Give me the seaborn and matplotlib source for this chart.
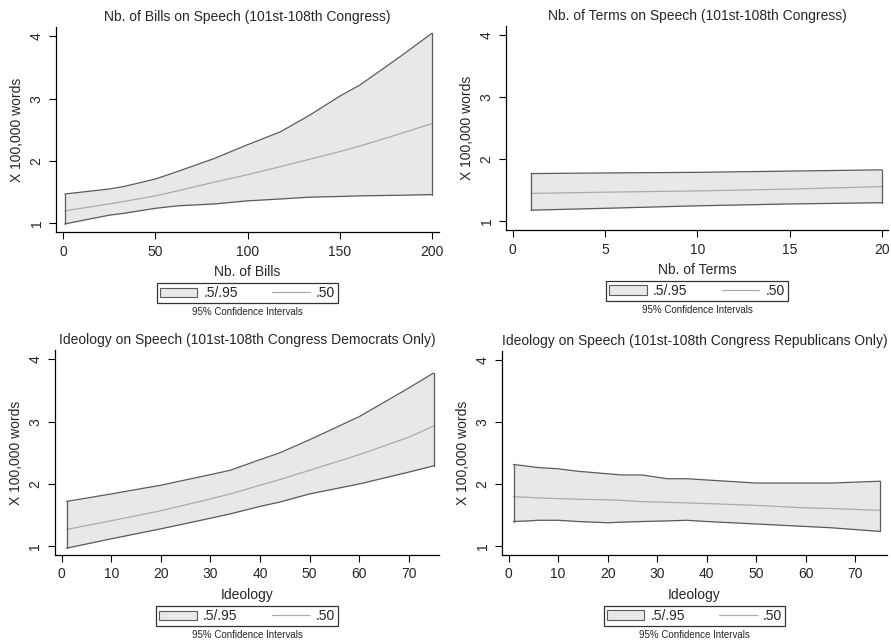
import matplotlib
matplotlib.use("Agg")
import matplotlib.pyplot as plt
import seaborn as sns
import pandas as pd
from matplotlib.patches import Patch
from matplotlib.lines import Line2D

sns.set_style("ticks")
plt.rcParams["font.family"] = ["Liberation Sans", "DejaVu Sans"]

# Predicted speech (x 100,000 words): lower bound, median, upper bound
bills_x = [1, 25, 33, 50, 62, 82, 100, 118, 134, 150, 161, 183, 200]
bills_lo = [0.99, 1.13, 1.16, 1.24, 1.28, 1.31, 1.36, 1.39, 1.42, 1.43, 1.44, 1.45, 1.46]
bills_med = [1.20, 1.31, 1.35, 1.44, 1.52, 1.66, 1.78, 1.91, 2.03, 2.15, 2.24, 2.44, 2.60]
bills_hi = [1.47, 1.55, 1.59, 1.71, 1.83, 2.04, 2.26, 2.47, 2.74, 3.04, 3.22, 3.68, 4.05]

terms_x = [1, 5, 10, 15, 20]
terms_lo = [1.18, 1.21, 1.25, 1.28, 1.30]
terms_med = [1.45, 1.47, 1.49, 1.52, 1.56]
terms_hi = [1.77, 1.78, 1.79, 1.81, 1.83]

dem_x = [1, 10, 20, 30, 34, 40, 44, 50, 60, 70, 75]
dem_lo = [0.97, 1.12, 1.28, 1.45, 1.52, 1.64, 1.71, 1.84, 2.00, 2.19, 2.29]
dem_med = [1.27, 1.41, 1.57, 1.76, 1.84, 1.98, 2.07, 2.22, 2.47, 2.75, 2.93]
dem_hi = [1.72, 1.84, 1.98, 2.15, 2.22, 2.39, 2.50, 2.71, 3.08, 3.54, 3.78]

rep_x = [1, 4, 6, 10, 14, 20, 23, 27, 32, 36, 40, 50, 60, 65, 75]
rep_lo = [1.40, 1.41, 1.42, 1.42, 1.40, 1.38, 1.39, 1.40, 1.41, 1.42, 1.40, 1.36, 1.32, 1.30, 1.24]
rep_med = [1.80, 1.79, 1.78, 1.77, 1.76, 1.75, 1.74, 1.72, 1.71, 1.70, 1.69, 1.66, 1.62, 1.61, 1.58]
rep_hi = [2.32, 2.29, 2.27, 2.25, 2.21, 2.17, 2.15, 2.15, 2.09, 2.09, 2.07, 2.02, 2.02, 2.02, 2.05]

titles = [
    "Nb. of Bills on Speech (101st-108th Congress)",
    "Nb. of Terms on Speech (101st-108th Congress)",
    "Ideology on Speech (101st-108th Congress Democrats Only)",
    "Ideology on Speech (101st-108th Congress Republicans Only)",
]
xlabels = ["Nb. of Bills", "Nb. of Terms", "Ideology", "Ideology"]
ylabel = "X 100,000 words"
legend_labels = [".5/.95", ".50"]
caption = "95% Confidence Intervals"

panels = [
    (bills_x, bills_lo, bills_med, bills_hi, [0, 50, 100, 150, 200], (-3.8, 203.8)),
    (terms_x, terms_lo, terms_med, terms_hi, [0, 5, 10, 15, 20], (-0.36, 20.32)),
    (dem_x, dem_lo, dem_med, dem_hi, [0, 10, 20, 30, 40, 50, 60, 70], (-1.35, 76.1)),
    (rep_x, rep_lo, rep_med, rep_hi, [0, 10, 20, 30, 40, 50, 60, 70], (-1.33, 76.4)),
]

W, H = 891, 642
boxes_px = [
    (56, 27, 439, 232),
    (506, 26, 888, 230),
    (55, 350, 439, 555),
    (502, 351, 887, 555),
]

FILL = "#e8e8e8"
EDGE = "#5a5a5a"
MED = "#ababab"

fig = plt.figure(figsize=(W / 100, H / 100), dpi=100)
fig.patch.set_facecolor("white")

for i, ((x, lo, med, hi, xticks, xlim), (l, t, r, b)) in enumerate(zip(panels, boxes_px)):
    ax = fig.add_axes([l / W, (H - b) / H, (r - l) / W, (b - t) / H])
    df = pd.DataFrame({"x": x, "lo": lo, "med": med, "hi": hi})

    # shaded interval with closed outline
    ax.fill_between(df["x"], df["lo"], df["hi"], color=FILL, lw=0, zorder=1)
    sns.lineplot(data=df, x="x", y="hi", ax=ax, color=EDGE, lw=0.9, zorder=3)
    sns.lineplot(data=df, x="x", y="lo", ax=ax, color=EDGE, lw=0.9, zorder=3)
    for xe in (x[0], x[-1]):
        ax.plot([xe, xe], [df.loc[df["x"] == xe, "lo"].iloc[0], df.loc[df["x"] == xe, "hi"].iloc[0]],
                color=EDGE, lw=0.9, zorder=3)
    sns.lineplot(data=df, x="x", y="med", ax=ax, color=MED, lw=0.9, zorder=2)

    ax.set_xlim(*xlim)
    ax.set_ylim(0.86, 4.15)
    ax.set_xticks(xticks)
    ax.set_yticks([1, 2, 3, 4])
    ax.set_yticklabels(["1", "2", "3", "4"], rotation=90, va="center")
    ax.tick_params(axis="both", direction="out", length=5, width=0.8, color="black",
                   labelsize=10, pad=4)
    for s in ("top", "right"):
        ax.spines[s].set_visible(False)
    for s in ("left", "bottom"):
        ax.spines[s].set_color("black")
        ax.spines[s].set_linewidth(0.9)

    ax.set_title(titles[i], fontsize=10, pad=4)
    ax.set_xlabel(xlabels[i], fontsize=10, labelpad=5)
    ax.set_ylabel(ylabel, fontsize=10, labelpad=4)

    handles = [
        Patch(facecolor=FILL, edgecolor=EDGE, linewidth=0.8),
        Line2D([0], [0], color=MED, lw=0.9),
    ]
    leg = ax.legend(handles, legend_labels, loc="upper center", bbox_to_anchor=(0.5, -0.25),
                    ncol=2, frameon=True, fancybox=False, edgecolor="black", fontsize=10,
                    handlelength=2.7, handleheight=0.65, handletextpad=0.45,
                    columnspacing=2.5, borderpad=0.2, borderaxespad=0.0)
    leg.get_frame().set_linewidth(0.9)
    ax.text(0.5, -0.39, caption, transform=ax.transAxes, ha="center", va="center", fontsize=7)

fig.savefig("out.png", dpi=100, facecolor="white")
